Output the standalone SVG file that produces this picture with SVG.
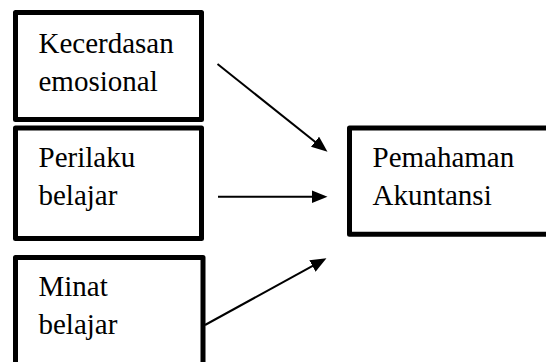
<svg xmlns="http://www.w3.org/2000/svg" width="546" height="362" viewBox="0 0 546 362">
<style>
.box{fill:#fff;stroke:#000;stroke-width:5;stroke-linejoin:round}
.t{font-family:"Liberation Serif","Times New Roman",serif;font-size:29px;fill:#000}
.c{stroke:#000;stroke-width:2;fill:none}
</style>
<defs>
<marker id="ah" markerUnits="userSpaceOnUse" markerWidth="16" markerHeight="13" refX="6" refY="6.5" orient="auto">
<path d="M0,0 L16,6.5 L0,13 z" fill="#000"/>
</marker>
</defs>
<rect width="546" height="362" fill="#fff"/>
<g id="node-kecerdasan">
<rect class="box" x="15.5" y="12.5" width="186" height="107"/>
<text class="t" x="38.5" y="53.3">Kecerdasan</text>
<text class="t" x="38.5" y="90.7">emosional</text>
</g>
<g id="node-perilaku">
<rect class="box" x="15.5" y="128" width="186" height="110.5"/>
<text class="t" x="38.5" y="166.7">Perilaku</text>
<text class="t" x="38.5" y="205">belajar</text>
</g>
<g id="node-minat">
<rect class="box" x="15.5" y="257.5" width="187.5" height="130"/>
<text class="t" x="38.5" y="296">Minat</text>
<text class="t" x="38.5" y="334.3">belajar</text>
</g>
<g id="node-pemahaman">
<rect class="box" x="349.5" y="128" width="230" height="106.2"/>
<text class="t" x="372.5" y="166.7">Pemahaman</text>
<text class="t" x="372.5" y="205">Akuntansi</text>
</g>
<g id="connectors">
<line class="c" x1="217.5" y1="64" x2="319.7" y2="145.5" marker-end="url(#ah)"/>
<line class="c" x1="218" y1="196.7" x2="317.5" y2="196.7" marker-end="url(#ah)"/>
<line class="c" x1="205" y1="325" x2="317.7" y2="263.1" marker-end="url(#ah)"/>
</g>
</svg>
